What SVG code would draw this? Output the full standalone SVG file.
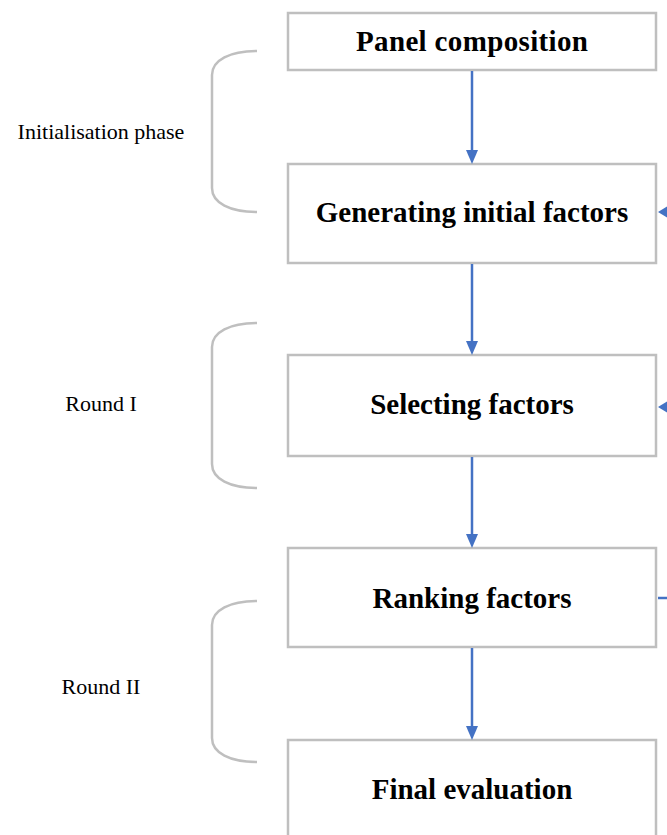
<svg xmlns="http://www.w3.org/2000/svg" width="667" height="835" viewBox="0 0 667 835">
<style>
.box{fill:#fff;stroke:#BFBFBF;stroke-width:2.5}
.t{font-family:"Liberation Serif","DejaVu Serif",serif;font-weight:bold;font-size:29px;fill:#000;text-anchor:middle}
.l{font-family:"Liberation Serif","DejaVu Serif",serif;font-size:22px;fill:#000;text-anchor:middle}
.br{fill:none;stroke:#BFBFBF;stroke-width:2.5}
.c{stroke:#4472C4;stroke-width:2.5;fill:none}
.ah{fill:#4472C4}
</style>
<rect width="667" height="835" fill="#fff"/>
<g id="brace1"><path class="br" d="M257,51 C230,51 212,60 212,75 L212,188 C212,203 230,212 257,212"/><text class="l" x="101" y="139">Initialisation phase</text></g>
<g id="brace2"><path class="br" d="M257,323 C230,323 212,332 212,347 L212,464 C212,479 230,488 257,488"/><text class="l" x="101" y="411">Round I</text></g>
<g id="brace3"><path class="br" d="M257,601 C230,601 212,610 212,625 L212,738 C212,753 230,762 257,762"/><text class="l" x="101" y="694">Round II</text></g>
<g id="n1"><rect class="box" x="288" y="13" width="368" height="57"/><text class="t" x="472" y="51" textLength="232">Panel composition</text></g>
<g id="n2"><rect class="box" x="288" y="164" width="368" height="99"/><text class="t" x="472" y="222">Generating initial factors</text></g>
<g id="n3"><rect class="box" x="288" y="355" width="368" height="101"/><text class="t" x="472" y="414">Selecting factors</text></g>
<g id="n4"><rect class="box" x="288" y="548" width="368" height="99"/><text class="t" x="472" y="608">Ranking factors</text></g>
<g id="n5"><rect class="box" x="288" y="740" width="368" height="110"/><text class="t" x="472" y="799">Final evaluation</text></g>
<g id="connectors">
<line class="c" x1="472" y1="71" x2="472" y2="152"/><path class="ah" d="M466,150 L478,150 L472,164 z"/>
<line class="c" x1="472" y1="264" x2="472" y2="343"/><path class="ah" d="M466,341 L478,341 L472,355 z"/>
<line class="c" x1="472" y1="457" x2="472" y2="536"/><path class="ah" d="M466,534 L478,534 L472,548 z"/>
<line class="c" x1="472" y1="648" x2="472" y2="728"/><path class="ah" d="M466,726 L478,726 L472,740 z"/>
<path class="ah" d="M658,212 L668,206 L668,218 z"/>
<path class="ah" d="M658,407 L668,401 L668,413 z"/>
<line class="c" x1="658" y1="598" x2="667" y2="598"/>
</g>
</svg>
